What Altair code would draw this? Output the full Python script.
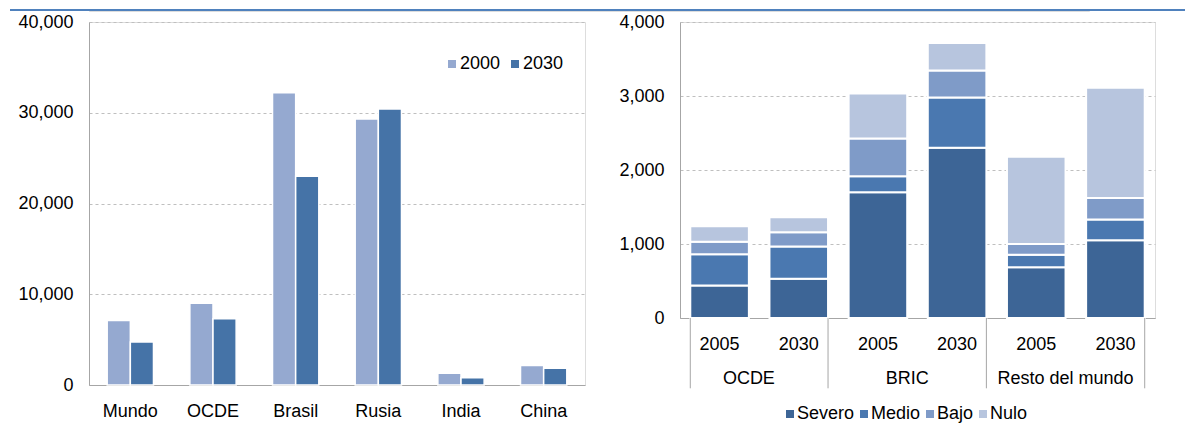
import altair as alt
import pandas as pd

# ---------------- data: left panel ----------------
countries = ["Mundo", "OCDE", "Brasil", "Rusia", "India", "China"]
left_years = ["2000", "2030"]
val_2000 = [7100, 9000, 32200, 29300, 1300, 2150]
val_2030 = [4750, 7300, 23000, 30400, 800, 1850]
left_ticks = [0, 10000, 20000, 30000, 40000]

# ---------------- data: right panel ----------------
groups = ["OCDE", "BRIC", "Resto del mundo"]
periods = ["2005", "2030"]
levels = ["Severo", "Medio", "Bajo", "Nulo"]
severo = [440, 530, 1700, 2300, 685, 1050]
medio = [420, 435, 215, 680, 170, 280]
bajo = [170, 195, 510, 365, 145, 290]
nulo = [210, 200, 610, 370, 1180, 1490]
right_ticks = [0, 1000, 2000, 3000, 4000]

left_colors = ["#95a9d0", "#4573a7"]
right_colors = ["#3d6596", "#4a78b0", "#7f9bc8", "#b7c5de"]

FONT = "Liberation Sans Narrow, Arial Narrow, Liberation Sans, Arial, sans-serif"
FS = 18
GRID = "#bfbfbf"
AXIS = "#a6a6a6"

# ---------------- tables ----------------
left_rows = []
for i, c in enumerate(countries):
    left_rows.append({"pais": c, "anio": "2000", "valor": val_2000[i]})
    left_rows.append({"pais": c, "anio": "2030", "valor": val_2030[i]})
left_df = pd.DataFrame(left_rows)

keys = [g + "|" + p for g in groups for p in periods]
series = {"Severo": severo, "Medio": medio, "Bajo": bajo, "Nulo": nulo}
right_rows = []
for k_i, k in enumerate(keys):
    for l_i, lv in enumerate(levels):
        right_rows.append({"key": k, "nivel": lv, "idx": l_i, "valor": series[lv][k_i]})
right_df = pd.DataFrame(right_rows)

# ---------------- left chart ----------------
left = alt.Chart(left_df).mark_bar(stroke="white", strokeWidth=1.5).encode(
    x=alt.X("pais:N", sort=countries,
            scale=alt.Scale(paddingInner=0.44, paddingOuter=0.22),
            axis=alt.Axis(title=None, labelAngle=0, ticks=False, grid=False,
                          domainColor=AXIS, labelPadding=17)),
    xOffset=alt.XOffset("anio:N", sort=left_years),
    y=alt.Y("valor:Q", scale=alt.Scale(domain=[0, 40000], nice=False),
            axis=alt.Axis(title=None, values=left_ticks, format=",d", ticks=False,
                          labelPadding=16, domain=True, domainColor=AXIS,
                          gridColor=GRID, gridDash=[3, 3])),
    color=alt.Color("anio:N", sort=left_years,
                    scale=alt.Scale(domain=left_years, range=left_colors),
                    legend=alt.Legend(title=None, orient="none", direction="horizontal",
                                      legendX=354, legendY=33,
                                      symbolType="square", symbolSize=64,
                                      symbolStrokeWidth=0, labelFontSize=FS,
                                      labelOffset={"expr": "-1"},
                                      columnPadding=5)),
).properties(width=496, height=363)

# ---------------- right chart ----------------
bars = alt.Chart(right_df).mark_bar(stroke="white", strokeWidth=2).encode(
    x=alt.X("key:N", sort=keys,
            scale=alt.Scale(paddingInner=0.26, paddingOuter=0.13),
            axis=alt.Axis(title=None, labelAngle=0, ticks=False, grid=False,
                          domainColor=AXIS, labelPadding=17,
                          labelExpr="split(datum.value, '|')[1]")),
    y=alt.Y("sum(valor):Q", scale=alt.Scale(domain=[0, 4000], nice=False),
            axis=alt.Axis(title=None, values=right_ticks, format=",d", ticks=False,
                          labelPadding=16, domain=True, domainColor=AXIS,
                          gridColor=GRID, gridDash=[3, 3])),
    color=alt.Color("nivel:N", sort=levels,
                    scale=alt.Scale(domain=levels, range=right_colors),
                    legend=alt.Legend(title=None, orient="none", direction="horizontal",
                                      legendX=101, legendY=383,
                                      symbolType="square", symbolSize=64, symbolStrokeWidth=0,
                                      labelFontSize=FS, labelOffset={"expr": "-2"},
                                      columnPadding=0)),
    order=alt.Order("idx:Q", sort="ascending"),
)

sep_end_df = pd.DataFrame({"key": [g + "|2030" for g in groups]})
sep_start_df = pd.DataFrame({"key": [groups[0] + "|2005"]})
rule_end = alt.Chart(sep_end_df).mark_rule(color=AXIS, strokeWidth=1).encode(
    x=alt.X("key:N", sort=keys, bandPosition=1),
    y=alt.datum(0), y2=alt.datum(-950))
rule_start = alt.Chart(sep_start_df).mark_rule(color=AXIS, strokeWidth=1).encode(
    x=alt.X("key:N", sort=keys, bandPosition=0),
    y=alt.datum(0), y2=alt.datum(-950))

grp_df = pd.DataFrame({"key": [g + "|2005" for g in groups], "grupo": groups})
grp_text = alt.Chart(grp_df).mark_text(fontSize=FS, font=FONT, color="#000000", baseline="middle").encode(
    x=alt.X("key:N", sort=keys, bandPosition=1),
    y=alt.datum(-830),
    text="grupo:N")

right = alt.layer(bars, rule_end, rule_start, grp_text).properties(width=475, height=296)

body = alt.hconcat(left, right, spacing=32).resolve_scale(color="independent").resolve_legend(color="independent")

topline = alt.Chart(pd.DataFrame({"a": [0]})).mark_rule(color="#4f81bd", strokeWidth=2).encode(
    x=alt.value(-79), x2=alt.value(1096), y=alt.value(0)).properties(width=1000, height=1)

chart = alt.vconcat(topline, body, spacing=0).properties(
    padding={"left": 0, "top": 0, "right": 0, "bottom": 0}
).configure_view(stroke=None).configure(font=FONT).configure_axis(
    labelFont=FONT, labelFontSize=FS, labelColor="#000000"
).configure_legend(labelFont=FONT, labelColor="#000000")

chart.save("out.html", embed_options={"renderer": "svg", "actions": False})
